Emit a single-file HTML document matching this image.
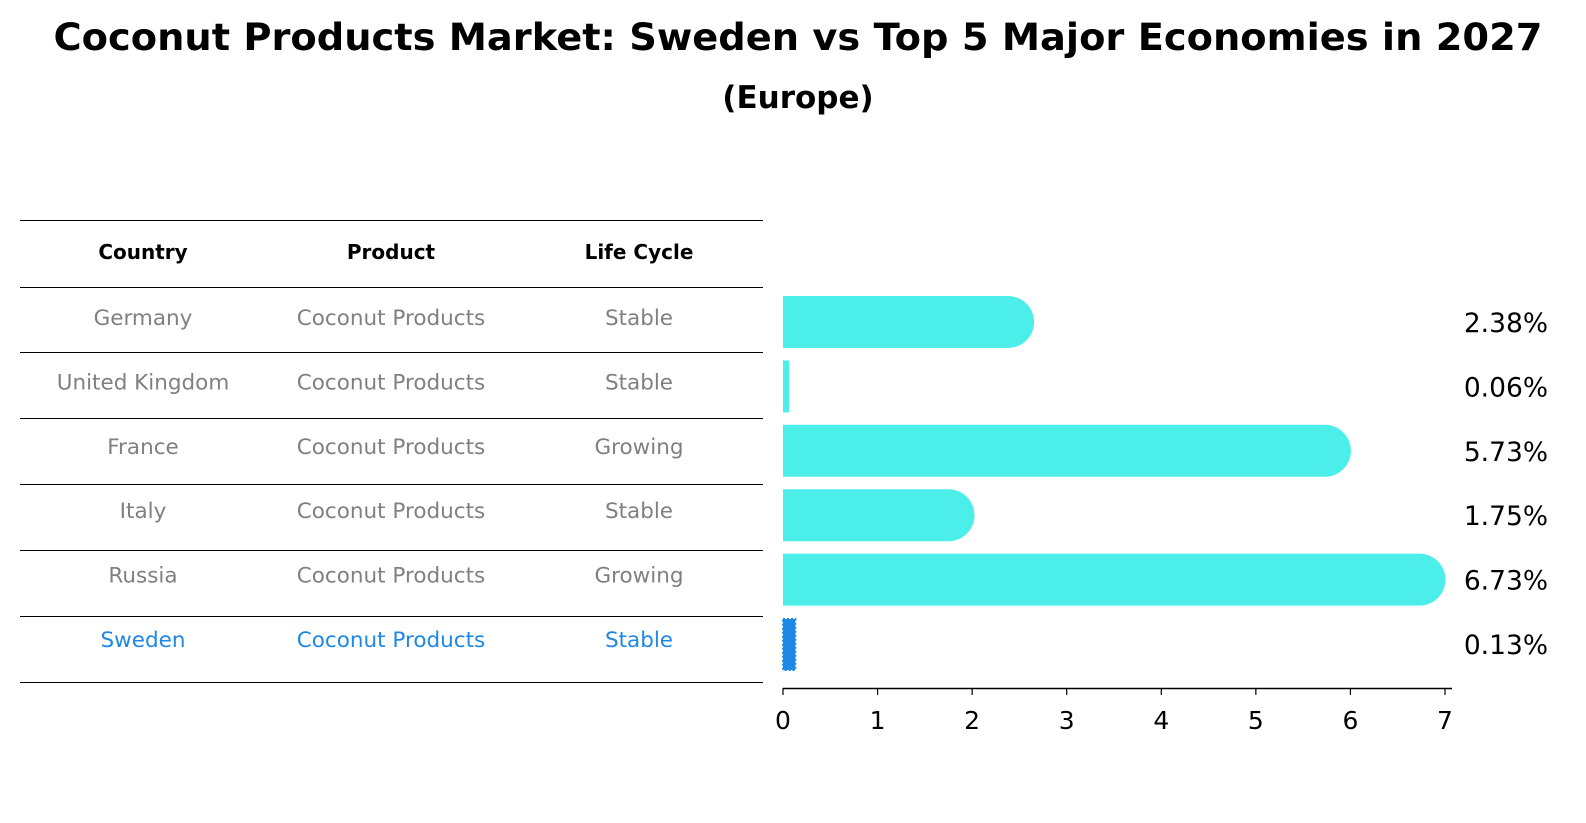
<!DOCTYPE html>
<html><head><meta charset="utf-8"><style>
html,body{margin:0;padding:0;background:#fff;overflow:hidden;width:1586px;height:823px;}
#wrap{position:relative;width:1586px;height:823px;overflow:hidden}
svg{display:block}
</style></head><body>
<div id="wrap">
<svg id="svg" width="1586" height="823" viewBox="0 0 1586 823" xmlns="http://www.w3.org/2000/svg">
<text x="798" y="50" text-anchor="middle" font-family="DejaVu Sans,sans-serif" font-weight="bold" font-size="37" textLength="1489" lengthAdjust="spacingAndGlyphs">Coconut Products Market: Sweden vs Top 5 Major Economies in 2027</text>
<text x="798" y="108" text-anchor="middle" font-family="DejaVu Sans,sans-serif" font-weight="bold" font-size="31">(Europe)</text>
<g id="table"></g>
<g id="bars"></g>
</svg>
</div>
<script>
const countries=["Germany","United Kingdom","France","Italy","Russia","Sweden"];
const products=["Coconut Products","Coconut Products","Coconut Products","Coconut Products","Coconut Products","Coconut Products"];
const lifecycle=["Stable","Stable","Growing","Stable","Growing","Stable"];
const values=[2.38,0.06,5.73,1.75,6.73,0.13];
const ticks=[0,1,2,3,4,5,6,7];
const NS="http://www.w3.org/2000/svg";
const F="DejaVu Sans,sans-serif";
function mk(tag,attrs,parent,text){const e=document.createElementNS(NS,tag);for(const k in attrs)e.setAttribute(k,attrs[k]);if(text!==undefined)e.textContent=text;parent.appendChild(e);return e;}
const tbl=document.getElementById('table');
const lineYs=[220,287,352,418,484,550,616,682];
lineYs.forEach((y,i)=>{const l=mk('line',{x1:20,x2:763,y1:y+0.5,y2:y+0.5,stroke:'#000','stroke-width':1},tbl);

});
const colX=[143,391,639];
["Country","Product","Life Cycle"].forEach((h,i)=>{const t=mk('text',{x:colX[i],y:259,'text-anchor':'middle','font-family':F,'font-weight':'bold','font-size':20},tbl,h);

});
function rowY(i){return 322+i*64.4;}
countries.forEach((c,i)=>{const col=c==="Sweden"?"#1e88e5":"#808080";
[c,products[i],lifecycle[i]].forEach((v,j)=>{const t=mk('text',{x:colX[j],y:rowY(i+0)+3,'text-anchor':'middle','font-family':F,'font-size':21.5,fill:col},tbl,v);

});});
const g=document.getElementById('bars');
const x0=783,px=94.57;
function xs(v){return x0+v*px;}
values.forEach((v,i)=>{const cy=rowY(i);const h=52;
if(countries[i]==="Sweden"){
 const r=mk('rect',{x:x0,y:cy-25,width:Math.max(xs(v)-x0,2),height:51,fill:'#1e88e5',stroke:'#1e88e5','stroke-width':2,'stroke-dasharray':'2 2'},g);
 
 
}else{
 const w=xs(v)-x0;
 if(w>h/2){
  const p=mk('path',{d:`M${x0},${cy-h/2} H${xs(v)} A${h/2},${h/2} 0 0 1 ${xs(v)},${cy+h/2} H${x0} Z`,fill:'#4ceee9'},g);
  
  
 }else{
  const p=mk('rect',{x:x0,y:cy-h/2,width:Math.max(w,6),height:h,fill:'#4ceee9'},g);
  
  
 }
}
const t=mk('text',{x:1548,y:cy+10,'text-anchor':'end','font-family':F,'font-size':26.5},g,v.toFixed(2)+'%');


});
const ax=mk('line',{x1:x0,x2:1452,y1:688.5,y2:688.5,stroke:'#000','stroke-width':1.5},g);


ticks.forEach(v=>{const l=mk('line',{x1:xs(v),x2:xs(v),y1:688,y2:695,stroke:'#000','stroke-width':1.2},g);


const t=mk('text',{x:xs(v),y:729,'text-anchor':'middle','font-family':F,'font-size':25},g,String(v));

});
</script>
</body></html>
